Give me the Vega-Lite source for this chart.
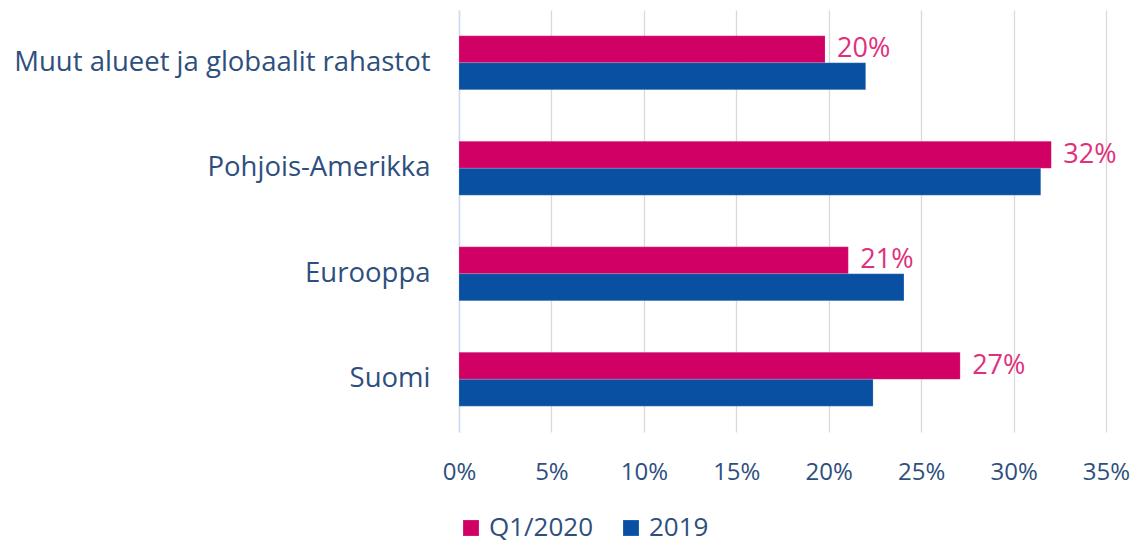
{
  "$schema": "https://vega.github.io/schema/vega-lite/v6.json",
  "autosize": {"type": "none"},
  "padding": {"left": 459, "top": 10, "right": 32, "bottom": 113},
  "width": 647,
  "height": 422,
  "background": "white",
  "config": {
    "view": {"stroke": null},
    "font": "Open Sans"
  },
  "data": {
    "values": [
      {"region": "Muut alueet ja globaalit rahastot", "series": "Q1/2020", "value": 0.198},
      {"region": "Muut alueet ja globaalit rahastot", "series": "2019", "value": 0.220},
      {"region": "Pohjois-Amerikka", "series": "Q1/2020", "value": 0.3204},
      {"region": "Pohjois-Amerikka", "series": "2019", "value": 0.3147},
      {"region": "Eurooppa", "series": "Q1/2020", "value": 0.2106},
      {"region": "Eurooppa", "series": "2019", "value": 0.2407},
      {"region": "Suomi", "series": "Q1/2020", "value": 0.2711},
      {"region": "Suomi", "series": "2019", "value": 0.224}
    ]
  },
  "encoding": {
    "y": {
      "field": "region",
      "type": "nominal",
      "sort": ["Muut alueet ja globaalit rahastot", "Pohjois-Amerikka", "Eurooppa", "Suomi"],
      "scale": {"paddingInner": 0.49, "paddingOuter": 0.245},
      "axis": {
        "title": null,
        "ticks": false,
        "domain": true,
        "domainColor": "#cfdcf2",
        "domainWidth": 1.5,
        "labelFontSize": 27.5,
        "labelColor": "#2e4f7e",
        "labelPadding": 29,
        "labelLimit": 600
      }
    },
    "yOffset": {
      "field": "series",
      "type": "nominal",
      "sort": ["Q1/2020", "2019"],
      "scale": {"paddingInner": 0, "paddingOuter": 0}
    },
    "x": {
      "field": "value",
      "type": "quantitative",
      "scale": {"domain": [0, 0.35], "nice": false},
      "axis": {
        "title": null,
        "format": ".0%",
        "values": [0, 0.05, 0.1, 0.15, 0.2, 0.25, 0.3, 0.35],
        "domain": false,
        "ticks": false,
        "grid": true,
        "gridColor": "#d9d9d9",
        "gridWidth": 1.3,
        "labelFlush": false,
        "labelFontSize": 24,
        "labelColor": "#2e4f7e",
        "labelPadding": 28
      }
    }
  },
  "layer": [
    {
      "mark": {"type": "bar", "stroke": "white", "strokeOpacity": 0.3, "strokeWidth": 0.5},
      "encoding": {
        "color": {
          "field": "series",
          "type": "nominal",
          "sort": ["Q1/2020", "2019"],
          "scale": {"domain": ["Q1/2020", "2019"], "range": ["#d10064", "#0a50a2"]},
          "legend": {
            "title": null,
            "orient": "none",
            "direction": "horizontal",
            "legendX": -1,
            "legendY": 505,
            "symbolType": "square",
            "symbolSize": 250,
            "symbolStrokeWidth": 0,
            "labelFontSize": 26,
            "labelColor": "#2e4f7e",
            "labelOffset": 5,
            "columnPadding": 24
          }
        }
      }
    },
    {
      "transform": [{"filter": "datum.series === 'Q1/2020'"}],
      "mark": {"type": "text", "align": "left", "baseline": "middle", "dx": 12, "fontSize": 27, "color": "#e0307c"},
      "encoding": {
        "text": {"field": "value", "type": "quantitative", "format": ".0%"}
      }
    }
  ]
}
